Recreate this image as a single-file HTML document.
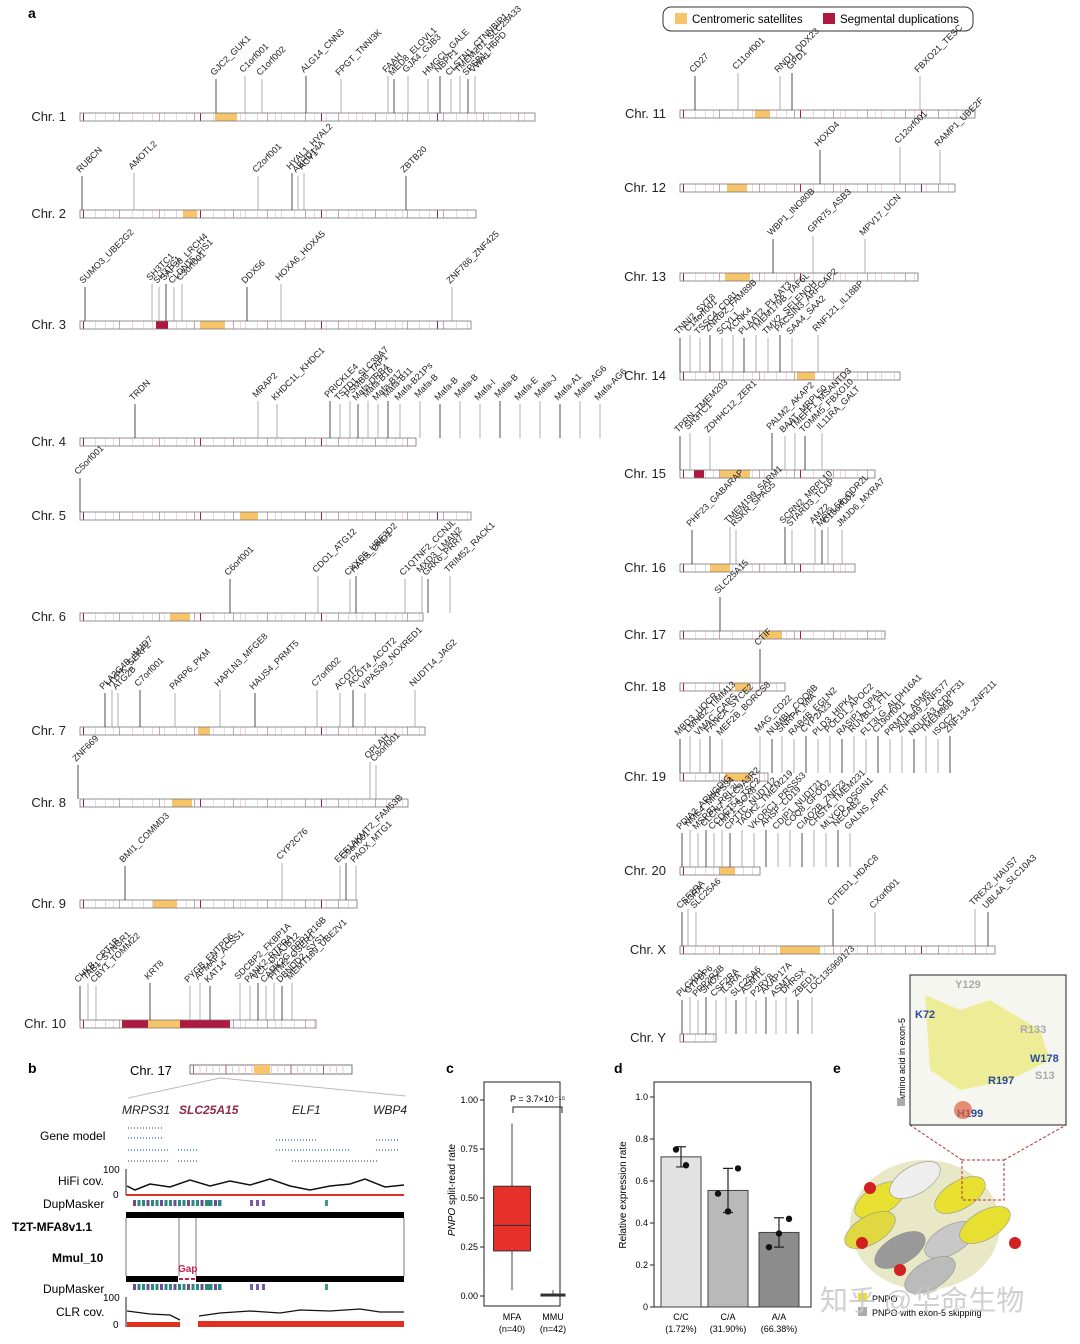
<!DOCTYPE html>
<html><head><meta charset="utf-8"><style>
body{margin:0;background:#fff;}
svg{display:block;font-family:"Liberation Sans","Noto Sans CJK SC",sans-serif;}
</style></head><body>
<svg id="fig" width="1080" height="1344" viewBox="0 0 1080 1344" xmlns="http://www.w3.org/2000/svg">
<text x="28" y="18" font-size="14" font-weight="bold">a</text>
<g>
<rect x="663" y="7" width="310" height="24" rx="8" fill="#fff" stroke="#333" stroke-width="1"/>
<rect x="675" y="13" width="12" height="11" fill="#f8c46a"/>
<text x="692" y="23" font-size="11.5">Centromeric satellites</text>
<rect x="823" y="13" width="12" height="11" fill="#b01840"/>
<text x="840" y="23" font-size="11.5">Segmental duplications</text>
</g>
<g id="chroms"></g>
<g id="pb"></g>
<g id="pc"></g>
<g id="pd"></g>
<g id="pe"></g>
</svg>
<script>
const NS="http://www.w3.org/2000/svg";
function mk(p,t,a,txt){const e=document.createElementNS(NS,t);for(const k in a)e.setAttribute(k,a[k]);if(txt!==undefined)e.textContent=txt;p.appendChild(e);return e;}
const chromNames=["Chr. 1","Chr. 2","Chr. 3","Chr. 4","Chr. 5","Chr. 6","Chr. 7","Chr. 8","Chr. 9","Chr. 10","Chr. 11","Chr. 12","Chr. 13","Chr. 14","Chr. 15","Chr. 16","Chr. 17","Chr. 18","Chr. 19","Chr. 20","Chr. X","Chr. Y"];
const chromX0=[80,80,80,80,80,80,80,80,80,80,680,680,680,680,680,680,680,680,680,680,680,680];
const chromX1=[535,476,471,416,471,423,425,408,357,316,975,955,918,900,875,855,885,785,768,760,995,716];
const chromY=[117,214,325,442,516,617,731,803,904,1024,114,188,277,376,474,568,635,687,777,871,950,1038];
const cenS=[215,183,200,0,240,170,198,172,153,148,755,727,725,797,720,710,762,735,725,720,780,0];
const cenE=[237,197,225,0,258,190,210,192,177,180,770,747,750,815,750,730,782,750,750,735,820,0];
const genes=[
 [["GJC2_GUK1",216],["C1orf001",245],["C1orf002",262],["ALG14_CNN3",306],["FPGT_TNNI3K",341],["FAAH",388],["MED8_ELOVL1",394],["GJA4_GJB3",408],["HMGCL_GALE",428],["NBPF1",440],["CLSTN1_CTNNBIP1",451],["TMEM201_SLC25A33",460],["SPSB1_H6PD",468],["VWA1",475]],
 [["RUBCN",82],["AMOTL2",134],["C2orf001",258],["HYAL1_HYAL2",292],["ABHD14A",298],["ACY1",304],["ZBTB20",406]],
 [["SUMO3_UBE2G2",85],["SH3TC1",152],["SH3TC1",159],["SAP30_LRCH4",166],["CLDN15_FIS1",174],["C3orf001",182],["DDX56",247],["HOXA6_HOXA5",281],["ZNF786_ZNF425",452]],
 [["TRDN",135],["MRAP2",258],["KHDC1L_KHDC1",277],["PRICKLE4",330],["TSTD1_SLC39A7",340],["PSMB8_TAP1",350],["Mafa-DRB4",358],["Mafa-B16",368],["Mafa-B17",378],["Mafa-B11",388],["Mafa-B21Ps",400],["Mafa-B",420],["Mafa-B",440],["Mafa-B",460],["Mafa-I",480],["Mafa-B",500],["Mafa-E",520],["Mafa-J",540],["Mafa-A1",560],["Mafa-AG6",580],["Mafa-AG6",600]],
 [["C5orf001",80]],
 [["C6orf001",230],["CDO1_ATG12",318],["CXXC5_UBE2D2",350],["HARS_DND1",356],["C1QTNF2_CCNJL",405],["MXD3_LMAN2",422],["GRK6_PRR7",428],["TRIM52_RACK1",450]],
 [["PLA2G4B_IMJD7",105],["HYPK_SERF2",112],["ATG2B",118],["C7orf001",140],["PARP6_PKM",175],["HAPLN3_MFGE8",220],["HAUS4_PRMT5",255],["C7orf002",317],["ACOT2",340],["ACOT4_ACOT2",353],["VIPAS39_NOXRED1",365],["NUDT14_JAG2",415]],
 [["ZNF669",78],["OPLAH",370],["C8orf001",376]],
 [["BMI1_COMMD3",125],["CYP2C76",282],["EEF1AKMT2_FAM53B",340],["C9orf001",346],["PAOX_MTG1",356]],
 [["CHKB_CPT1B",80],["TAB1_SYNGR1",88],["CBY1_TOMM22",96],["KRT8",150],["PYGB_ENTPD6",190],["APMAP_ACSS1",200],["KAT14",210],["SDCBP2_FKBP1A",240],["PANK2_PTPRA",250],["VCL_DNAJB12",258],["CAMK2G_PPP1R16B",266],["FITM2_OSER1",274],["DBNDD2_SYS1",282],["MEMT189_UBE2V1",292]],
 [["CD27",695],["C11orf001",738],["RND1_DDX23",780],["GPD1",792],["FBXO21_TESC",920]],
 [["HOXD4",820],["C12orf001",900],["RAMP1_UBE2F",940]],
 [["WBP1_INO80B",773],["GPR75_ASB3",813],["MPV17_UCN",865]],
 [["TNNI2_SYT8",680],["C14orf001",690],["TSSC4_CD81",700],["ZNRD2_FAM89B",710],["SCYL1",722],["KCNK4",733],["PLAAT2_PLAAT3",744],["TMEM179B_TAF6L",756],["TMX2_SELENOH",768],["PACSIN3_ARFGAP2",780],["SAA4_SAA2",792],["RNF121_IL18BP",818]],
 [["TPRN_TMEM203",680],["SH3TC1",690],["ZDHHC12_ZER1",710],["PALM2_AKAP2",772],["BAAT_MRPL50",785],["TMEFF1_MSANTD3",795],["TOMM5_FBXO10",805],["IL11RA_GALT",822]],
 [["PHF23_GABARAP",692],["TMEM199_SARM1",730],["RSKR_SPAG5",736],["SCRN2_MRPL10",785],["STARD3_TCAP",792],["AMZ2",815],["MRPL58_CDR2L",822],["C16orf001",828],["JMJD6_MXRA7",842]],
 [["SLC25A15",720]],
 [["CTIF",760]],
 [["MBD3_UQCR",680],["LMNB2_TIMM13",690],["VMAC_CAPS",700],["FANCA_SYCE2",710],["MEF2B_BORCS8",722],["MAG_CD22",760],["NUMBL_COQ8B",772],["SNRPA_MIA",782],["RAB4B_EGLN2",794],["CYP2A23",806],["PLD3_HIPK4",818],["POLD1_APOC2",830],["RASIP1_OPA3",842],["RUVBL2_FTL",854],["FLT3LG_ALDH16A1",866],["C19orf001",878],["PRMT1_ADM5",890],["ZNF649_ZNF577",902],["NDUFA3_CDPF31",914],["TMEM86B",926],["ISOC2",938],["ZNF134_ZNF211",950]],
 [["PDIA2_ARHGDIG",682],["NME4_MRPS34",690],["MSRB1_RPL3L",698],["CLCN7_SLC9A3R2",706],["CCDC154_TSC2",714],["LMF1_SOX8",722],["CPT1C_NUDT12",730],["TAOK2_TMEM219",742],["VKORC1_PRSS53",754],["AHSP_CD19",766],["CDIP1_NUDT21",778],["COQ8_GFOD2",790],["CIAO2B_ZNF23",802],["CHST4_TMEM231",814],["MLYCD_OSGIN1",826],["NECAB2",838],["GALNS_APRT",850]],
 [["CSF2RA",682],["IL3RA",688],["SLC25A6",696],["CITED1_HDAC8",833],["CXorf001",875],["TREX2_HAUS7",975],["UBL4A_SLC10A3",988]],
 [["PLCXD1",682],["GTPBP6",690],["PPP2R3B",698],["SHOX",706],["CSF2RA",716],["IL3RA",726],["SLC25A6",736],["ASMTL",746],["P2RY8",756],["AKAP17A",766],["ASMT",776],["DHRSX",786],["ZBED1",798],["LOC135969173",812]]
];
const cg=document.getElementById('chroms');
chromNames.forEach((nm,i)=>{
 const g=mk(cg,'g',{});
 
 
 const x0=chromX0[i],x1=chromX1[i],y=chromY[i];
 const lx=i<10?66:666;
 const lab=mk(g,'text',{x:lx,y:y+4,'font-size':13,'text-anchor':'end',fill:'#222'},nm);
 
 
 mk(g,'rect',{x:x0,y:y-4,width:x1-x0,height:8,fill:'#fff'});
 for(let k=0,xx=x0+3;xx<x1-1;k++,xx+=5+(k*7)%9){
  const c=(k%13===0)?'#b01840':((k%4===0)?'#d4a0ab':'#efd6db');
  mk(g,'rect',{x:xx,y:y-4,width:1,height:8,fill:c});
 }
 if(cenE[i]>0)mk(g,'rect',{x:cenS[i],y:y-4,width:cenE[i]-cenS[i],height:8,fill:'#f8c46a'});
 if(i===2)mk(g,'rect',{x:156,y:y-4,width:12,height:8,fill:'#b01840'});
 if(i===9)mk(g,'rect',{x:122,y:y-4,width:108,height:8,fill:'#b01840'}),mk(g,'rect',{x:cenS[i],y:y-4,width:cenE[i]-cenS[i],height:8,fill:'#f8c46a'});
 if(i===14)mk(g,'rect',{x:694,y:y-4,width:10,height:8,fill:'#b01840'});
 mk(g,'rect',{x:x0,y:y-4,width:x1-x0,height:8,fill:'none',stroke:'#777','stroke-width':0.8});
 genes[i].forEach(([gn,gx],j)=>{
  const top=y-4-34-(j%2)*3;
  mk(g,'line',{x1:gx,y1:y-4,x2:gx,y2:top,stroke:j%3===0?'#222':'#999','stroke-width':0.8});
  const t=mk(g,'text',{x:gx-2,y:top-3,'font-size':9,fill:'#222',transform:`rotate(-45 ${gx-2} ${top-3})`},gn);
  
  
 });
});
// ---- panel b
const pb=document.getElementById('pb');
mk(pb,'text',{x:28,y:1073,'font-size':14,'font-weight':'bold'},'b');
mk(pb,'text',{x:130,y:1075,'font-size':13},'Chr. 17');
mk(pb,'rect',{x:190,y:1065,width:162,height:9,fill:'#fff',stroke:'#555','stroke-width':0.8});
for(let k=0;k<24;k++)mk(pb,'rect',{x:193+k*6.5,y:1065,width:1,height:9,fill:k%5?'#e8c8d0':'#b06078'});
mk(pb,'rect',{x:254,y:1065,width:16,height:9,fill:'#f8c46a'});
mk(pb,'path',{d:'M220 1078 L128 1098 M220 1078 L406 1096',stroke:'#bbb',fill:'none'});
[["MRPS31",122,'#222'],["SLC25A15",179,'#8b2a4a'],["ELF1",292,'#222'],["WBP4",373,'#222']].forEach(([t,x,c])=>{mk(pb,'text',{x:x,y:1114,'font-size':12,'font-style':'italic','font-weight':c==='#222'?'normal':'bold',fill:c},t);});
mk(pb,'text',{x:40,y:1140,'font-size':12},'Gene model');
[[128,163,1128],[128,163,1138],[128,170,1150],[128,170,1161],[178,198,1150],[178,198,1161],[276,318,1140],[276,350,1150],[292,378,1161],[376,398,1140],[376,398,1150]].forEach(([a,b,y])=>mk(pb,'line',{x1:a,y1:y,x2:b,y2:y,stroke:'#4a7fa8','stroke-width':1.5,'stroke-dasharray':'1 2'}));
mk(pb,'text',{x:58,y:1185,'font-size':12},'HiFi cov.');
mk(pb,'text',{x:103,y:1173,'font-size':10},'100');mk(pb,'text',{x:113,y:1198,'font-size':10},'0');
mk(pb,'path',{d:'M126 1169 V1195',stroke:'#222'});
mk(pb,'path',{d:'M127 1186 L135 1190 L150 1184 L170 1187 L190 1180 L210 1186 L230 1181 L250 1185 L270 1179 L290 1186 L310 1190 L330 1186 L350 1184 L365 1179 L385 1187 L404 1185',stroke:'#111',fill:'none','stroke-width':1.5});
mk(pb,'line',{x1:126,y1:1195,x2:404,y2:1195,stroke:'#e03020','stroke-width':2});
mk(pb,'text',{x:43,y:1208,'font-size':12},'DupMasker');
mk(pb,'text',{x:43,y:1293,'font-size':12},'DupMasker');
for(let k=0;k<20;k++){mk(pb,'rect',{x:133+k*4.5,y:1200,width:3,height:6,fill:k%3?'#2a8a80':'#6a4a9a'});mk(pb,'rect',{x:133+k*4.5,y:1284,width:3,height:6,fill:k%3?'#2a8a80':'#6a4a9a'});}
[[208,'#2a8a80'],[218,'#2a8a80'],[250,'#7a5aa8'],[256,'#7a5aa8'],[262,'#7a5aa8'],[325,'#3aa080']].forEach(([x,c])=>{mk(pb,'rect',{x:x,y:1200,width:3,height:6,fill:c});mk(pb,'rect',{x:x,y:1284,width:3,height:6,fill:c});});
mk(pb,'rect',{x:126,y:1212,width:278,height:6,fill:'#000'});
mk(pb,'text',{x:12,y:1231,'font-size':12,'font-weight':'bold'},'T2T-MFA8v1.1');
mk(pb,'text',{x:52,y:1262,'font-size':12,'font-weight':'bold'},'Mmul_10');
mk(pb,'path',{d:'M126 1218 V1276 M179 1218 V1276 M196 1218 V1276 M404 1218 V1276',stroke:'#444','stroke-width':0.7});
mk(pb,'rect',{x:126,y:1276,width:52,height:6,fill:'#000'});mk(pb,'rect',{x:196,y:1276,width:208,height:6,fill:'#000'});
mk(pb,'line',{x1:179,y1:1279,x2:196,y2:1279,stroke:'#c02050','stroke-width':2,'stroke-dasharray':'4 2'});
mk(pb,'text',{x:178,y:1272,'font-size':10,'font-weight':'bold',fill:'#c02050'},'Gap');
mk(pb,'text',{x:56,y:1316,'font-size':12},'CLR cov.');
mk(pb,'text',{x:103,y:1301,'font-size':10},'100');mk(pb,'text',{x:113,y:1328,'font-size':10},'0');
mk(pb,'path',{d:'M126 1297 V1327',stroke:'#222'});
mk(pb,'path',{d:'M127 1311 L150 1314 L170 1315 L180 1320 M199 1316 L220 1313 L250 1311 L280 1313 L300 1310 L330 1311 L360 1309 L380 1312 L404 1312',stroke:'#111',fill:'none','stroke-width':1.3});
mk(pb,'rect',{x:127,y:1322,width:53,height:5,fill:'#e03020'});mk(pb,'rect',{x:198,y:1321,width:206,height:6,fill:'#e03020'});
// ---- panel c
const boxCats=["MFA","MMU"];
const boxN=["(n=40)","(n=42)"];
const boxQ1=[0.23,0.0];const boxMed=[0.36,0.005];const boxQ3=[0.56,0.01];const boxLo=[0.03,0.0];const boxHi=[0.88,0.03];
const cTicks=[0,0.25,0.5,0.75,1.0];
const pc=document.getElementById('pc');
const cy=v=>1296-v*196;
mk(pc,'text',{x:446,y:1073,'font-size':14,'font-weight':'bold'},'c');
mk(pc,'rect',{x:484,y:1082,width:76,height:224,fill:'none',stroke:'#222'});
cTicks.forEach(t=>{mk(pc,'line',{x1:480,y1:cy(t),x2:484,y2:cy(t),stroke:'#222'});const e=mk(pc,'text',{x:478,y:cy(t)+3,'font-size':9,'text-anchor':'end'},t.toFixed(2));});
const cx=[512,553];
boxCats.forEach((c,i)=>{
 const x=cx[i],w=i===0?37:24;
 mk(pc,'line',{x1:x,y1:cy(boxLo[i]),x2:x,y2:cy(boxHi[i]),stroke:'#444'});
 const b=mk(pc,'rect',{x:x-w/2,y:cy(boxQ3[i]),width:w,height:Math.max(2,cy(boxQ1[i])-cy(boxQ3[i])),fill:i?'#1a2a3a':'#e8302a',stroke:'#333'});
 
 mk(pc,'line',{x1:x-w/2,y1:cy(boxMed[i]),x2:x+w/2,y2:cy(boxMed[i]),stroke:'#333','stroke-width':1.2});
 mk(pc,'text',{x:x,y:1320,'font-size':9,'text-anchor':'middle'},c);
 mk(pc,'text',{x:x,y:1332,'font-size':9,'text-anchor':'middle'},boxN[i]);
});
mk(pc,'path',{d:`M513 1113 V1107 H562 V1113`,stroke:'#222',fill:'none'});
mk(pc,'text',{x:510,y:1102,'font-size':9},'P = 3.7×10⁻¹⁵');
const yl=mk(pc,'text',{x:455,y:1190,'font-size':10,'text-anchor':'middle',transform:'rotate(-90 455 1190)'});
mk(yl,'tspan',{'font-style':'italic'},'PNPO');mk(yl,'tspan',{},' split-read rate');
// ---- panel d
const barCats=["C/C","C/A","A/A"];
const barPct=["(1.72%)","(31.90%)","(66.38%)"];
const barVals=[0.715,0.555,0.355];
const barErr=[0.048,0.105,0.07];
const barPts=[[0.75,0.675],[0.54,0.455,0.66],[0.285,0.35,0.42]];
const dTicks=[0,0.2,0.4,0.6,0.8,1.0];
const pd=document.getElementById('pd');
const dy=v=>1307-v*210;
mk(pd,'text',{x:614,y:1073,'font-size':14,'font-weight':'bold'},'d');
mk(pd,'rect',{x:654,y:1082,width:157,height:225,fill:'none',stroke:'#222'});
dTicks.forEach(t=>{mk(pd,'line',{x1:650,y1:dy(t),x2:654,y2:dy(t),stroke:'#222'});mk(pd,'text',{x:648,y:dy(t)+3,'font-size':9,'text-anchor':'end'},t===0?'0':t.toFixed(1));});
const dcol=['#e2e2e2','#b9b9b9','#8c8c8c'];const dx=[681,728,779];
barCats.forEach((c,i)=>{
 const r=mk(pd,'rect',{x:dx[i]-20,y:dy(barVals[i]),width:40,height:1307-dy(barVals[i]),fill:dcol[i],stroke:'#444'});
 
 mk(pd,'path',{d:`M${dx[i]} ${dy(barVals[i]-barErr[i])} V${dy(barVals[i]+barErr[i])} M${dx[i]-5} ${dy(barVals[i]-barErr[i])} h10 M${dx[i]-5} ${dy(barVals[i]+barErr[i])} h10`,stroke:'#222','stroke-width':1.2});
 barPts[i].forEach((p,k)=>mk(pd,'circle',{cx:dx[i]+(k-1)*10+(barPts[i].length===2?5:0),cy:dy(p),r:3.2,fill:'#111'}));
 mk(pd,'text',{x:dx[i],y:1320,'font-size':9,'text-anchor':'middle'},c);
 mk(pd,'text',{x:dx[i],y:1332,'font-size':9,'text-anchor':'middle'},barPct[i]);
});
mk(pd,'text',{x:626,y:1195,'font-size':10,'text-anchor':'middle',transform:'rotate(-90 626 1195)'},'Relative expression rate');
// ---- panel e
const pe=document.getElementById('pe');
mk(pe,'text',{x:833,y:1073,'font-size':14,'font-weight':'bold'},'e');
mk(pe,'ellipse',{cx:925,cy:1225,rx:75,ry:65,fill:'#d8d8a0',opacity:0.6});
[[880,1200,'#e8e030'],[960,1195,'#e8e030'],[900,1250,'#999'],[950,1240,'#c8c8c8'],[870,1230,'#e0d840'],[985,1225,'#e8e030'],[930,1275,'#bbb'],[915,1180,'#eee']].forEach(([x,y,c])=>mk(pe,'ellipse',{cx:x,cy:y,rx:28,ry:14,fill:c,stroke:'#888','stroke-width':0.5,transform:`rotate(-30 ${x} ${y})`}));
[[870,1188],[1015,1243],[862,1243],[900,1270]].forEach(([x,y])=>mk(pe,'circle',{cx:x,cy:y,r:6,fill:'#d02020'}));
mk(pe,'rect',{x:962,y:1160,width:42,height:40,fill:'none',stroke:'#b03030','stroke-dasharray':'3 2'});
mk(pe,'path',{d:'M962 1160 L910 1125 M1004 1160 L1066 1125',stroke:'#b03030','stroke-dasharray':'3 2',fill:'none'});
mk(pe,'rect',{x:910,y:975,width:156,height:150,fill:'#f6f6f0',stroke:'#222'});
mk(pe,'path',{d:'M925 995 L960 1010 L990 1000 L1040 1030 L1050 1060 L1010 1080 L960 1090 L930 1070 Z',fill:'#eaea70',opacity:0.7});
[["K72",915,1018,'#2a4a9a'],["Y129",955,988,'#aaa'],["R133",1020,1033,'#aaa'],["W178",1030,1062,'#2a4a9a'],["S13",1035,1079,'#aaa'],["R197",988,1084,'#2a4a9a'],["H199",957,1117,'#2a4a9a']].forEach(([t,x,y,c])=>mk(pe,'text',{x:x,y:y,'font-size':11,'font-weight':'bold',fill:c},t));
mk(pe,'circle',{cx:963,cy:1110,r:9,fill:'#e06040',opacity:0.7});
mk(pe,'text',{x:905,y:1060,'font-size':9,'text-anchor':'middle',transform:'rotate(-90 905 1060)'},'Amino acid in exon-5');
mk(pe,'rect',{x:897,y:1098,width:8,height:8,fill:'#aaa'});
mk(pe,'rect',{x:858,y:1293,width:9,height:9,fill:'#e8e030'});mk(pe,'text',{x:872,y:1302,'font-size':9},'PNPO');
mk(pe,'rect',{x:858,y:1307,width:9,height:9,fill:'#aaa'});mk(pe,'text',{x:872,y:1316,'font-size':9},'PNPO with exon-5 skipping');
const wm=mk(pe,'text',{x:820,y:1310,'font-size':28,fill:'#c8c8c8',opacity:0.85},'知乎 @华命生物');


</script>
</body></html>
